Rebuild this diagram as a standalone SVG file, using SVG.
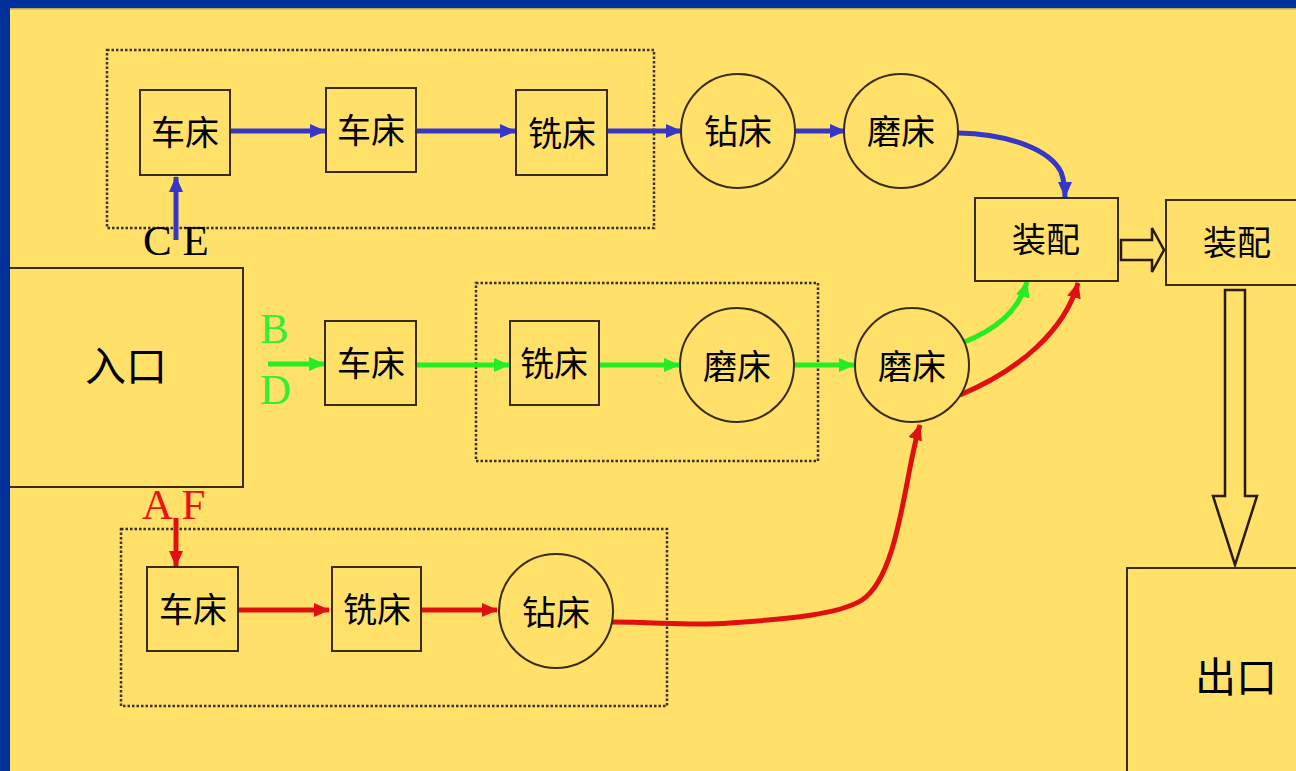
<svg xmlns="http://www.w3.org/2000/svg" width="1296" height="771" viewBox="0 0 1296 771">
<defs>
<style>
.node{fill:#FFE16A;stroke:#3a2a1a;stroke-width:2}
.grp{fill:none;stroke:#3a3020;stroke-width:2.5;stroke-dasharray:2.5 2}
.cn{font-family:"Liberation Serif","Noto Sans CJK SC",serif;font-size:34px;fill:#000;text-anchor:middle;dominant-baseline:central}
.big{font-size:41px}
.lab{font-family:"Liberation Serif",serif;font-size:43px}
.b{stroke:#3636c8;stroke-width:5;fill:none}
.g{stroke:#22ee22;stroke-width:5;fill:none}
.r{stroke:#e01010;stroke-width:5;fill:none}
.hol{fill:#FFE16A;stroke:#2a1a0a;stroke-width:2.5}
</style>
<marker id="ab" viewBox="0 0 16 14" refX="15" refY="7" markerWidth="16" markerHeight="14" markerUnits="userSpaceOnUse" orient="auto"><path d="M0,0 L16,7 L0,14 z" fill="#3636c8"/></marker>
<marker id="ag" viewBox="0 0 16 14" refX="15" refY="7" markerWidth="16" markerHeight="14" markerUnits="userSpaceOnUse" orient="auto"><path d="M0,0 L16,7 L0,14 z" fill="#22ee22"/></marker>
<marker id="ar" viewBox="0 0 16 14" refX="15" refY="7" markerWidth="16" markerHeight="14" markerUnits="userSpaceOnUse" orient="auto"><path d="M0,0 L16,7 L0,14 z" fill="#e01010"/></marker>
</defs>
<rect x="0" y="0" width="1296" height="771" fill="#FFE16A"/>

<g id="groups">
<rect class="grp" x="107" y="50" width="547" height="178"/>
<rect class="grp" x="476" y="283" width="342" height="178"/>
<rect class="grp" x="121" y="529" width="546" height="177"/>
</g>

<g id="connectors">
<path class="b" d="M176,240 L176,177" marker-end="url(#ab)"/>
<path class="b" d="M230,131 L325,131" marker-end="url(#ab)"/>
<path class="b" d="M416,131 L515,131" marker-end="url(#ab)"/>
<path class="b" d="M607,131 L681,131" marker-end="url(#ab)"/>
<path class="b" d="M795,131 L845,131" marker-end="url(#ab)"/>
<path class="b" d="M958,133 C1010,134 1050,150 1061,172 C1064,180 1065,188 1065,197" marker-end="url(#ab)"/>
<path class="g" d="M268,364 L324,364" marker-end="url(#ag)"/>
<path class="g" d="M416,365 L509,365" marker-end="url(#ag)"/>
<path class="g" d="M599,365 L679,365" marker-end="url(#ag)"/>
<path class="g" d="M794,365 L854,365" marker-end="url(#ag)"/>
<path class="g" d="M962,343 C995,330 1018,312 1027,282" marker-end="url(#ag)"/>
<path class="r" d="M960,395 C1020,370 1065,330 1078,283" marker-end="url(#ar)"/>
<path class="r" d="M176,518 L176,566" marker-end="url(#ar)"/>
<path class="r" d="M238,610 L329,610" marker-end="url(#ar)"/>
<path class="r" d="M421,610 L497,610" marker-end="url(#ar)"/>
<path class="r" d="M612,622 C660,622 690,626 730,623 C790,619 840,614 862,600 C900,575 905,470 920,425" marker-end="url(#ar)"/>
<path class="hol" d="M1121,240 L1152,240 L1152,228 L1164,250 L1152,272 L1152,260 L1121,260 z"/>
<path class="hol" d="M1225,290 L1245,290 L1245,496 L1257,496 L1235,565 L1213,496 L1225,496 z"/>
</g>

<g id="labels">
<text class="lab" x="143" y="255" fill="#000">C E</text>
<text class="lab" x="260" y="343" fill="#33ee33">B</text>
<text class="lab" x="260" y="404" fill="#33ee33">D</text>
<text class="lab" x="142" y="519" fill="#ee1111">A F</text>
</g>

<g id="n-entry"><rect class="node" x="4" y="268" width="239" height="219"/><text class="cn big" x="126" y="367">入口</text></g>
<g id="n-t1"><rect class="node" x="140" y="90" width="90" height="85"/><text class="cn" x="185" y="133">车床</text></g>
<g id="n-t2"><rect class="node" x="326" y="88" width="90" height="84"/><text class="cn" x="371" y="131">车床</text></g>
<g id="n-t3"><rect class="node" x="516" y="90" width="91" height="85"/><text class="cn" x="562" y="134">铣床</text></g>
<g id="n-t4"><circle class="node" cx="738" cy="131" r="57"/><text class="cn" x="738" y="132">钻床</text></g>
<g id="n-t5"><circle class="node" cx="901" cy="131" r="57"/><text class="cn" x="901" y="132">磨床</text></g>
<g id="n-m1"><rect class="node" x="325" y="321" width="91" height="84"/><text class="cn" x="371" y="364">车床</text></g>
<g id="n-m2"><rect class="node" x="510" y="321" width="89" height="84"/><text class="cn" x="554" y="364">铣床</text></g>
<g id="n-m3"><circle class="node" cx="737" cy="365" r="57"/><text class="cn" x="737" y="367">磨床</text></g>
<g id="n-m4"><circle class="node" cx="912" cy="365" r="57"/><text class="cn" x="912" y="367">磨床</text></g>
<g id="n-b1"><rect class="node" x="147" y="567" width="91" height="84"/><text class="cn" x="193" y="610">车床</text></g>
<g id="n-b2"><rect class="node" x="332" y="567" width="89" height="84"/><text class="cn" x="377" y="610">铣床</text></g>
<g id="n-b3"><circle class="node" cx="556" cy="611" r="57"/><text class="cn" x="556" y="613">钻床</text></g>
<g id="n-asm1"><rect class="node" x="975" y="198" width="143" height="83"/><text class="cn" x="1046" y="240">装配</text></g>
<g id="n-asm2"><rect class="node" x="1166" y="200" width="140" height="85"/><text class="cn" x="1237" y="243">装配</text></g>
<g id="n-exit"><rect class="node" x="1127" y="568" width="180" height="220"/><text class="cn big" x="1236" y="678">出口</text></g>

<g id="frame">
<rect x="0" y="0" width="1296" height="8" fill="#00309a"/>
<rect x="0" y="0" width="10" height="771" fill="#00309a"/>
<rect x="10" y="8" width="1286" height="1.5" fill="#b8a860"/>
</g>
</svg>
